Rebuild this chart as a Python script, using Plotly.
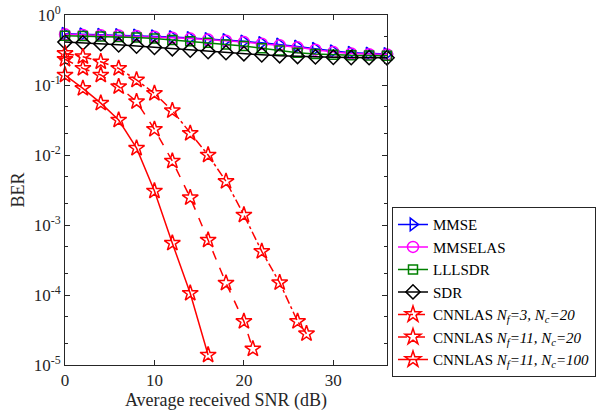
import plotly.graph_objects as go

# SNR grid (dB) for the baseline detectors
snr = [0, 2, 4, 6, 8, 10, 12, 14, 16, 18, 20, 22, 24, 26, 28, 30, 32, 34, 36]

ber_mmse = [0.54, 0.53, 0.525, 0.52, 0.51, 0.50, 0.485, 0.47, 0.455, 0.44,
            0.42, 0.40, 0.38, 0.355, 0.33, 0.305, 0.29, 0.282, 0.278]
ber_mmselas = [0.53, 0.52, 0.515, 0.51, 0.50, 0.49, 0.475, 0.46, 0.445, 0.43,
               0.41, 0.39, 0.37, 0.345, 0.32, 0.295, 0.282, 0.276, 0.273]
ber_lllsdr = [0.505, 0.50, 0.495, 0.485, 0.477, 0.46, 0.44, 0.42, 0.40, 0.38,
              0.36, 0.335, 0.31, 0.29, 0.278, 0.27, 0.266, 0.264, 0.262]
ber_sdr = [0.41, 0.40, 0.39, 0.375, 0.36, 0.345, 0.33, 0.315, 0.30, 0.29,
           0.28, 0.27, 0.262, 0.256, 0.252, 0.249, 0.247, 0.246, 0.245]

# CNN-aided LAS detectors
snr_nf3 = [0, 2, 4, 6, 8, 10, 12, 14, 16, 18, 20, 22, 24, 26, 27]
ber_nf3 = [0.283, 0.254, 0.215, 0.173, 0.118, 0.076, 0.043, 0.0204, 0.0100,
           0.0042, 0.00139, 0.00042, 0.00015, 4.2e-5, 2.8e-5]

snr_nf11 = [0, 2, 4, 6, 8, 10, 12, 14, 16, 18, 20, 21]
ber_nf11 = [0.233, 0.173, 0.139, 0.095, 0.058, 0.0233, 0.0082, 0.00246,
            0.00061, 0.000148, 4.2e-5, 1.7e-5]

snr_nf11_nc100 = [0, 2, 4, 6, 8, 10, 12, 14, 16]
ber_nf11_nc100 = [0.139, 0.0895, 0.055, 0.0316, 0.0125, 0.00306, 0.00055,
                  0.000106, 1.39e-5]

y_tickvals = [1e-5, 1e-4, 1e-3, 1e-2, 1e-1, 1]
y_ticktext = ["10<sup>-5</sup>", "10<sup>-4</sup>", "10<sup>-3</sup>",
              "10<sup>-2</sup>", "10<sup>-1</sup>", "10<sup>0</sup>"]
x_tickvals = [0, 10, 20, 30]

FONT = "Liberation Serif"

fig = go.Figure()

def add(x, y, name, color, symbol, size, dash="solid"):
    fig.add_trace(go.Scatter(
        x=x, y=y, name=name, mode="lines+markers",
        line=dict(color=color, width=1.5, dash=dash),
        marker=dict(symbol=symbol, size=size, color=color,
                    line=dict(color=color, width=1.5)),
        cliponaxis=False,
    ))

add(snr, ber_mmse, "MMSE", "#0000ff", "triangle-right-open", 11)
add(snr, ber_mmselas, "MMSELAS", "#ff00ff", "circle-open", 11)
add(snr, ber_lllsdr, "LLLSDR", "#008000", "square-open", 9)
add(snr, ber_sdr, "SDR", "#000000", "diamond-open", 11)
add(snr_nf3, ber_nf3, "CNNLAS <i>N<sub>f</sub>=3, N<sub>c</sub>=20</i>",
    "#ff0000", "star-open", 12, dash="dashdot")
add(snr_nf11, ber_nf11, "CNNLAS <i>N<sub>f</sub>=11, N<sub>c</sub>=20</i>",
    "#ff0000", "star-open", 12, dash="dash")
add(snr_nf11_nc100, ber_nf11_nc100,
    "CNNLAS <i>N<sub>f</sub>=11, N<sub>c</sub>=100</i>",
    "#ff0000", "star-open", 12)

axis_common = dict(
    showline=True, linecolor="#262626", linewidth=1, mirror="allticks",
    ticks="inside", ticklen=5, tickcolor="#262626", showgrid=False,
    zeroline=False, tickfont=dict(family=FONT, size=17, color="#262626"),
)

fig.update_xaxes(
    range=[0, 36], tickvals=x_tickvals,
    title=dict(text="Average received SNR (dB)", standoff=1,
               font=dict(family=FONT, size=18, color="#262626")),
    **axis_common,
)
fig.update_yaxes(
    type="log", range=[-5, 0], tickvals=y_tickvals, ticktext=y_ticktext,
    minor=dict(ticks="inside", ticklen=3, tickcolor="#262626", showgrid=False),
    title=dict(text="BER", standoff=4,
               font=dict(family=FONT, size=18, color="#262626")),
    **axis_common,
)

fig.update_layout(
    width=616, height=411,
    font=dict(family=FONT),
    margin=dict(l=65, r=229, t=15, b=46, autoexpand=False),
    paper_bgcolor="white", plot_bgcolor="white",
    showlegend=True,
    legend=dict(
        x=1.0155, xanchor="left", y=0.451, yanchor="top",
        bgcolor="white", bordercolor="#262626", borderwidth=1,
        font=dict(family=FONT, size=15, color="#000000"),
        tracegroupgap=0, itemwidth=30,
    ),
)

fig.write_html("out.html")
